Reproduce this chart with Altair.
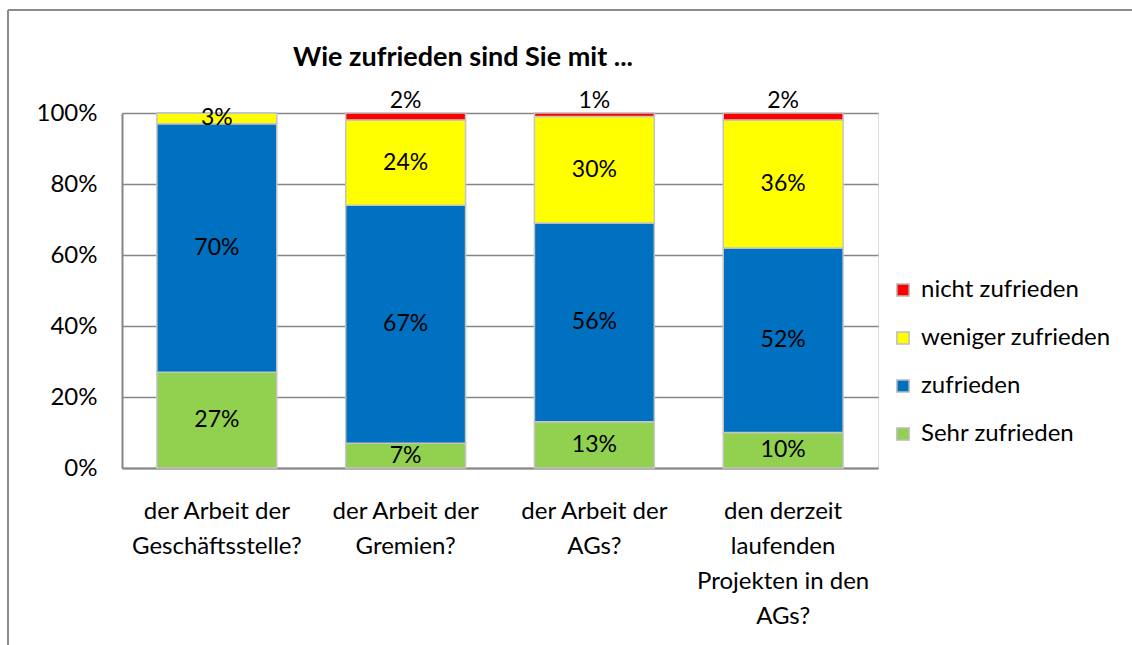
import altair as alt
import pandas as pd

title_text = "Wie zufrieden sind Sie mit ..."
categories = [
    "der Arbeit der\nGeschäftsstelle?",
    "der Arbeit der\nGremien?",
    "der Arbeit der\nAGs?",
    "den derzeit\nlaufenden\nProjekten in den\nAGs?",
]
series = ["Sehr zufrieden", "zufrieden", "weniger zufrieden", "nicht zufrieden"]
sehr_zufrieden = [27, 7, 13, 10]
zufrieden = [70, 67, 56, 52]
weniger_zufrieden = [3, 24, 30, 36]
nicht_zufrieden = [0, 2, 1, 2]
colors = {"nicht zufrieden": "#FF0000", "weniger zufrieden": "#FFFF00",
          "zufrieden": "#0070C0", "Sehr zufrieden": "#92D050"}

values = [sehr_zufrieden, zufrieden, weniger_zufrieden, nicht_zufrieden]
rows = []
for ci, cat in enumerate(categories):
    cum = 0
    for si, s in enumerate(series):
        v = values[si][ci]
        rows.append({"cat": cat, "series": s, "idx": si, "value": v,
                     "mid": cum + v / 2, "label": f"{v}%"})
        cum += v
df = pd.DataFrame(rows)

FONT = "Lato"
FS = 24
legend_order = ["nicht zufrieden", "weniger zufrieden", "zufrieden", "Sehr zufrieden"]

x_enc = alt.X("cat:N", sort=categories, title=None,
              scale=alt.Scale(paddingInner=0.365, paddingOuter=0.185),
              axis=alt.Axis(labelExpr="split(datum.label, '\\n')", labelAngle=0,
                            labelFontSize=FS, labelFont=FONT, labelColor="black",
                            labelLineHeight=35, labelPadding=31, ticks=False,
                            domainColor="#868686", domainWidth=2, labelLimit=300))

bars = alt.Chart(df).mark_bar(stroke="#C4C4C4", strokeWidth=1.5).encode(
    x=x_enc,
    y=alt.Y("value:Q", stack="zero", title=None,
            scale=alt.Scale(domain=[0, 100]),
            axis=alt.Axis(values=[0, 20, 40, 60, 80, 100], labelExpr="datum.value + '%'",
                          labelFontSize=FS, labelFont=FONT, labelColor="black",
                          labelPadding=25, ticks=False, grid=True,
                          gridColor="#868686", gridWidth=1.5,
                          domainColor="#868686", domainWidth=2)),
    color=alt.Color("series:N",
                    scale=alt.Scale(domain=legend_order,
                                    range=[colors[s] for s in legend_order]),
                    legend=alt.Legend(title=None, orient="none", legendX=769, legendY=165,
                                      symbolType="square", symbolSize=150,
                                      symbolStrokeColor="#BDBDBD", symbolStrokeWidth=1.5,
                                      labelFontSize=FS, labelFont=FONT, labelColor="black",
                                      rowPadding=24, labelOffset=6, labelLimit=400)),
    order=alt.Order("idx:Q"),
)

inside = alt.Chart(df).transform_filter("datum.value >= 3").mark_text(
    fontSize=23, font=FONT, color="black", baseline="middle").encode(
    x=alt.X("cat:N", sort=categories),
    y=alt.Y("mid:Q"),
    text="label:N",
)

outside = alt.Chart(df).transform_filter("datum.value > 0 && datum.value < 3").mark_text(
    fontSize=23, font=FONT, color="black", baseline="middle", dy=-12).encode(
    x=alt.X("cat:N", sort=categories),
    y=alt.datum(100),
    text="label:N",
)

title = alt.Chart(pd.DataFrame({"t": [title_text]})).mark_text(
    fontSize=27, font=FONT, fontWeight="bold", color="black", baseline="middle",
    align="center").encode(x=alt.value(341), y=alt.value(-55), text="t:N")

frame_left = alt.Chart(df).mark_rule(color="#8C8C8C", strokeWidth=2).encode(
    x=alt.value(-114), y=alt.value(-103), y2=alt.value(600))
frame_top = alt.Chart(df).mark_rule(color="#8C8C8C", strokeWidth=2).encode(
    x=alt.value(-114), x2=alt.value(1100), y=alt.value(-103))

chart = alt.layer(bars, inside, outside, title, frame_left, frame_top).properties(
    width=756, height=355,
    padding={"left": 122, "top": 113, "right": 254, "bottom": 177},
    autosize="none",
).configure_view(stroke=None).configure(background="white")

chart.save("out.html", embed_options={"renderer": "svg", "actions": False})
